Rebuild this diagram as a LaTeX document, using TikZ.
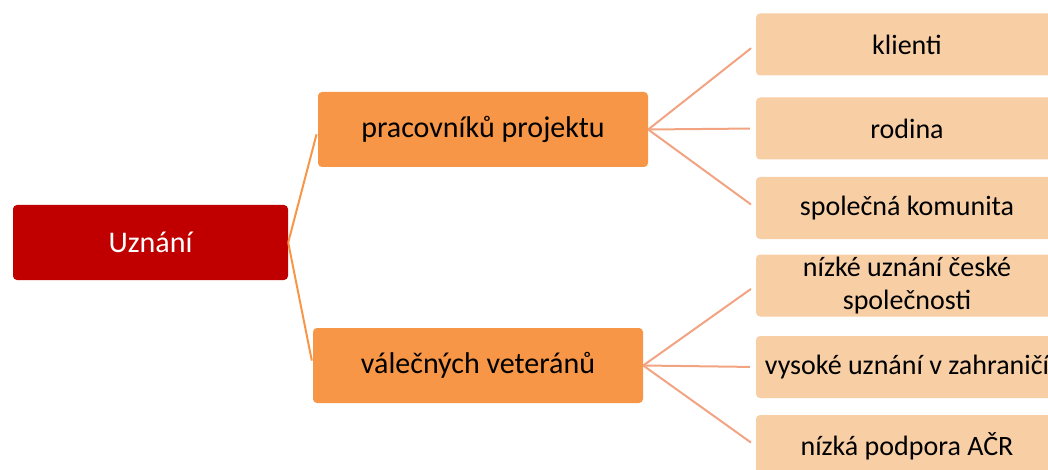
\documentclass[tikz,border=0pt]{standalone}
\usepackage{fontspec}
\setmainfont{Carlito}
\definecolor{rootred}{HTML}{C00000}
\definecolor{midorange}{HTML}{F79646}
\definecolor{leafpeach}{HTML}{F8CEA4}
\definecolor{leafline}{HTML}{F2A482}
\tikzset{
	box/.style={rounded corners=4pt, minimum height=75pt, inner sep=2pt, align=center,
		font=\fontsize{28}{33}\selectfont},
	rootbox/.style={box, fill=rootred, text=white, minimum width=275pt,
		font=\fontsize{30}{36}\selectfont},
	midbox/.style={box, fill=midorange, minimum width=330pt,
		font=\fontsize{30}{36}\selectfont},
	leafbox/.style={box, fill=leafpeach, minimum width=302pt, minimum height=62pt},
	mainlink/.style={draw=midorange, line width=2pt, shorten >=5pt},
	leaflink/.style={draw=leafline, line width=2pt, shorten >=6pt}
}
\begin{document}
\begin{tikzpicture}[x=1pt,y=-1pt]
	\useasboundingbox (0,0) rectangle (1048,470);
	\clip (0,0) rectangle (1048,470);
	\node[rootbox] at (150.5,242.5) (uznani) {Uznání};
	\node[midbox] at (483,129.5) (prac) {pracovníků projektu};
	\node[midbox] at (478,365.5) (val) {válečných veteránů};
	\node[leafbox] at (907,44.5) (klienti) {klienti};
	\node[leafbox] at (907,128.5) (rodina) {rodina};
	\node[leafbox] at (907,208) (komunita) {společná komunita};
	\node[leafbox] at (907,285.5) (nizke) {nízké uznání české\\společnosti};
	\node[leafbox] at (907,367) (vysoke) {vysoké uznání v zahraničí};
	\node[leafbox] at (907,446) (acr) {nízká podpora AČR};
	\path (uznani.east) edge[mainlink] (prac.west)
	(uznani.east) edge[mainlink] (val.west);
	\path (prac.east) edge[leaflink] (klienti.west)
	(prac.east) edge[leaflink] (rodina.west)
	(prac.east) edge[leaflink] (komunita.west);
	\path (val.east) edge[leaflink] (nizke.west)
	(val.east) edge[leaflink] (vysoke.west)
	(val.east) edge[leaflink] (acr.west);
\end{tikzpicture}
\end{document}
